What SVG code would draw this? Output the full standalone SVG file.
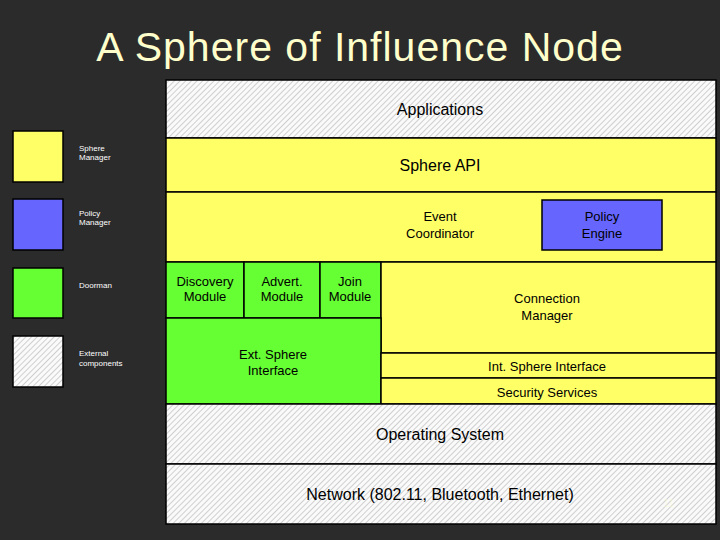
<svg xmlns="http://www.w3.org/2000/svg" width="720" height="540" viewBox="0 0 720 540">
<style>
.b{stroke:#000;stroke-width:1.5}
.y{fill:#ffff66}.p{fill:#6666ff}.g{fill:#66ff33}.h{fill:url(#hatch)}
text{font-family:"Liberation Sans",Arial,sans-serif;fill:#000;text-anchor:middle}
.s{font-size:13px}.m{font-size:16px}
.l{font-size:8px;fill:#fff;text-anchor:start}
</style>
<defs>
<pattern id="hatch" width="4" height="4" patternUnits="userSpaceOnUse" patternTransform="rotate(45)">
<rect width="4" height="4" fill="#fafafa"/><line x1="0" y1="0" x2="0" y2="4" stroke="#bdbdbd" stroke-width="1.4"/>
</pattern>
</defs>
<rect width="720" height="540" fill="#2b2b2b"/>
<text x="360" y="61" style="font-size:41px;letter-spacing:1px;fill:#ffffcc">A Sphere of Influence Node</text>
<g id="legend">
<rect class="b y" x="13" y="131" width="50" height="51"/>
<text class="l" x="79" y="151">Sphere</text><text class="l" x="79" y="160">Manager</text>
<rect class="b p" x="13" y="199" width="50" height="51"/>
<text class="l" x="79" y="216">Policy</text><text class="l" x="79" y="225">Manager</text>
<rect class="b g" x="13" y="268" width="50" height="50"/>
<text class="l" x="79" y="288">Doorman</text>
<rect class="b h" x="13" y="336" width="50" height="51"/>
<text class="l" x="79" y="356">External</text><text class="l" x="79" y="366">components</text>
</g>
<g id="applications"><rect class="b h" x="166" y="80" width="550" height="58"/><text class="m" x="440" y="115">Applications</text></g>
<g id="sphere-api"><rect class="b y" x="166" y="138" width="550" height="54"/><text class="m" x="440" y="171">Sphere API</text></g>
<g id="event-coordinator"><rect class="b y" x="166" y="192" width="550" height="70"/><text class="s" x="440" y="221">Event</text><text class="s" x="440" y="238">Coordinator</text></g>
<g id="policy-engine"><rect class="b p" x="542" y="200" width="120" height="50"/><text class="s" x="602" y="221">Policy</text><text class="s" x="602" y="238">Engine</text></g>
<g id="discovery"><rect class="b g" x="166" y="262" width="78" height="56"/><text class="s" x="205" y="286">Discovery</text><text class="s" x="205" y="301">Module</text></g>
<g id="advert"><rect class="b g" x="244" y="262" width="76" height="56"/><text class="s" x="282" y="286">Advert.</text><text class="s" x="282" y="301">Module</text></g>
<g id="join"><rect class="b g" x="320" y="262" width="61" height="56"/><text class="s" x="350" y="286">Join</text><text class="s" x="350" y="301">Module</text></g>
<g id="connection-manager"><rect class="b y" x="381" y="262" width="335" height="91"/><text class="s" x="547" y="303">Connection</text><text class="s" x="547" y="320">Manager</text></g>
<g id="ext-sphere"><rect class="b g" x="166" y="318" width="215" height="86"/><text class="s" x="273" y="359">Ext. Sphere</text><text class="s" x="273" y="375">Interface</text></g>
<g id="int-sphere"><rect class="b y" x="381" y="353" width="335" height="25"/><text class="s" x="547" y="371">Int. Sphere Interface</text></g>
<g id="security"><rect class="b y" x="381" y="378" width="335" height="26"/><text class="s" x="547" y="397">Security Services</text></g>
<g id="os"><rect class="b h" x="166" y="404" width="550" height="60"/><text class="m" x="440" y="440">Operating System</text></g>
<g id="network"><rect class="b h" x="166" y="464" width="550" height="60"/><text class="m" x="440" y="500">Network (802.11, Bluetooth, Ethernet)</text></g>
<g id="connectors"/>
<text x="669" y="507" style="font-size:11px;fill:#ffffcc;opacity:0.4">11</text>
</svg>
